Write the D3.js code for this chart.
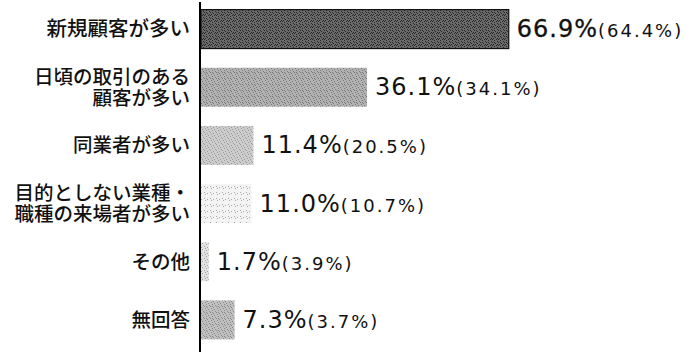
<!DOCTYPE html>
<html>
<head>
<meta charset="utf-8">
<script src="https://cdn.jsdelivr.net/npm/d3@7"></script>
<style>
  html, body { margin: 0; padding: 0; background: #fff; }
  svg { display: block; }
</style>
</head>
<body>
<svg id="chart" width="698" height="352"></svg>
<script>
// Survey answers: share of respondents (current year) and previous year in brackets
const categories = [
  ["新規顧客が多い"],
  ["日頃の取引のある", "顧客が多い"],
  ["同業者が多い"],
  ["目的としない業種・", "職種の来場者が多い"],
  ["その他"],
  ["無回答"]
];
const values = [66.9, 36.1, 11.4, 11.0, 1.7, 7.3];
const previous = [64.4, 34.1, 20.5, 10.7, 3.9, 3.7];

// Halftone-like textures for each bar: [base, dot colour, dot density]
const textures = [
  ["#6a6a6a", "#262626", 0.5],
  ["#b2b2b2", "#777777", 0.4],
  ["#cdcdcd", "#989898", 0.35],
  ["#f3f3f3", "#a8a8a8", 0.18],
  ["#e2e2e2", "#a0a0a0", 0.3],
  ["#c0c0c0", "#888888", 0.4]
];

const svg = d3.select("#chart");
const W = 698, H = 352;
const axisX = 200;

const x = d3.scaleLinear().domain([0, 100]).range([axisX + 1, axisX + 1 + 460]);
const y = d3.scaleBand()
  .domain(d3.range(categories.length))
  .range([0, 349])
  .paddingInner(0.33)
  .paddingOuter(0.165);

// Dotted patterns built from a fixed dot layout in a 6x6 cell
const defs = svg.append("defs");
const cellDots = [
  [0,0],[3,1],[1,2],[4,3],[2,4],[5,5],[2,0],[5,2],[0,3],[3,5],[1,5],[4,0],
  [1,1],[4,4],[0,5],[5,1],[2,3],[3,3]
];
textures.forEach((t, i) => {
  const p = defs.append("pattern")
    .attr("id", "tex" + i)
    .attr("patternUnits", "userSpaceOnUse")
    .attr("width", 6).attr("height", 6);
  p.append("rect").attr("width", 6).attr("height", 6).attr("fill", t[0]);
  const n = Math.round(cellDots.length * t[2]);
  cellDots.slice(0, n).forEach(d => {
    p.append("rect").attr("x", d[0]).attr("y", d[1])
      .attr("width", 1).attr("height", 1).attr("fill", t[1]);
  });
});

// Bars
svg.append("g").selectAll("rect")
  .data(values)
  .join("rect")
  .attr("x", x(0))
  .attr("y", (d, i) => y(i))
  .attr("width", d => x(d) - x(0))
  .attr("height", y.bandwidth())
  .attr("fill", (d, i) => `url(#tex${i})`)
  .attr("stroke", (d, i) => i === 0 ? "#111" : "none")
  .attr("stroke-width", 1.2);

// Vertical axis line
svg.append("line")
  .attr("x1", axisX).attr("x2", axisX)
  .attr("y1", 2).attr("y2", H)
  .attr("stroke", "#000").attr("stroke-width", 2);

// Category labels (right aligned against the axis)
const catFont = "'Noto Sans CJK JP', sans-serif";
const lab = svg.append("g").selectAll("text")
  .data(categories)
  .join("text")
  .attr("x", 190)
  .attr("text-anchor", "end")
  .attr("font-family", catFont)
  .attr("font-size", (d, i) => i === 0 ? 20.5 : 19.5)
  .attr("font-weight", 500)
  .attr("fill", "#111");
lab.each(function(lines, i) {
  const cy = y(i) + y.bandwidth() / 2;
  const lh = 21;
  const top = cy - (lines.length - 1) * lh / 2;
  d3.select(this).selectAll("tspan")
    .data(lines)
    .join("tspan")
    .attr("x", 190)
    .attr("y", (l, k) => top + k * lh)
    .attr("dy", "0.36em")
    .text(l => l);
});

// Value labels: current share large, previous year small in brackets
const numFont = "'DejaVu Sans', sans-serif";
const vl = svg.append("g").selectAll("text")
  .data(values)
  .join("text")
  .attr("x", d => x(d) + 8)
  .attr("y", (d, i) => y(i) + y.bandwidth() / 2 + 8)
  .attr("font-family", numFont)
  .attr("fill", "#111");
vl.append("tspan")
  .attr("font-size", 24)
  .attr("letter-spacing", 1)
  .attr("stroke", (d, i) => i === 0 ? "#111" : "none")
  .attr("stroke-width", 0.3)
  .text(d => d.toFixed(1) + "%");
vl.append("tspan")
  .attr("font-size", 18)
  .attr("letter-spacing", 2)
  .text((d, i) => "(" + previous[i].toFixed(1) + "%)");
</script>
</body>
</html>
